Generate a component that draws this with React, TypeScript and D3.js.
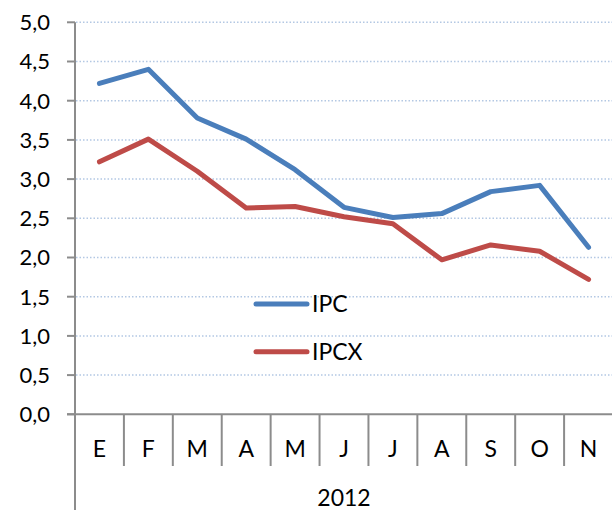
import React from "react";
import * as d3 from "d3";

const months = ["E", "F", "M", "A", "M", "J", "J", "A", "S", "O", "N"];
const ipc = [4.22, 4.4, 3.78, 3.51, 3.12, 2.64, 2.51, 2.56, 2.84, 2.92, 2.13];
const ipcx = [3.22, 3.51, 3.1, 2.63, 2.65, 2.52, 2.43, 1.97, 2.16, 2.08, 1.72];
const yTicks = [0, 0.5, 1, 1.5, 2, 2.5, 3, 3.5, 4, 4.5, 5];
const year = "2012";

const W = 612;
const H = 510;
const left = 75;
const right = 613;
const top = 22.3;
const bottom = 414.3;
const font = "Lato, 'Open Sans', sans-serif";

export default function App() {
  const x = d3
    .scaleBand<number>()
    .domain(months.map((_, i) => i))
    .range([left, right]);
  const y = d3.scaleLinear().domain([0, 5]).range([bottom, top]);
  const fmt = (v: number) => d3.format(".1f")(v).replace(".", ",");

  const line = d3
    .line<number>()
    .x((_, i) => (x(i) as number) + x.bandwidth() / 2)
    .y((d) => y(d));

  const series = [
    { name: "IPC", values: ipc, color: "#4a7ebb" },
    { name: "IPCX", values: ipcx, color: "#be4b48" },
  ];

  return (
    <svg
      width={W}
      height={H}
      style={{ position: "absolute", left: 0, top: 0, background: "#fff" }}
    >
      {/* gridlines */}
      {yTicks
        .filter((t) => t > 0)
        .map((t) => (
          <line
            key={"g" + t}
            x1={left + 1}
            x2={W}
            y1={y(t)}
            y2={y(t)}
            stroke="#b3c8e3"
            strokeWidth={1.5}
            strokeDasharray="1.5,2"
          />
        ))}

      {/* y axis */}
      <line x1={left} x2={left} y1={top} y2={H} stroke="#8c8c8c" strokeWidth={2} />
      {yTicks.map((t) => (
        <g key={"t" + t}>
          <line x1={left - 8} x2={left} y1={y(t)} y2={y(t)} stroke="#8c8c8c" strokeWidth={2} />
          <text
            x={50}
            y={y(t)}
            dy="0.36em"
            textAnchor="end"
            fontFamily={font}
            fontSize={22}
            fill="#000"
          >
            {fmt(t)}
          </text>
        </g>
      ))}

      {/* x axis */}
      <line x1={left - 8} x2={W} y1={bottom} y2={bottom} stroke="#8c8c8c" strokeWidth={2} />
      {months.map((m, i) => (
        <g key={"m" + i}>
          {i > 0 && (
            <line
              x1={x(i) as number}
              x2={x(i) as number}
              y1={bottom}
              y2={466}
              stroke="#8c8c8c"
              strokeWidth={2}
            />
          )}
          <text
            x={(x(i) as number) + x.bandwidth() / 2}
            y={457}
            textAnchor="middle"
            fontFamily={font}
            fontSize={23}
            fill="#000"
          >
            {m}
          </text>
        </g>
      ))}
      <text
        x={(left + right) / 2}
        y={506}
        textAnchor="middle"
        fontFamily={font}
        fontSize={23}
        fill="#000"
      >
        {year}
      </text>

      {/* lines */}
      {series.map((s) => (
        <path
          key={s.name}
          d={line(s.values) || ""}
          fill="none"
          stroke={s.color}
          strokeWidth={5}
          strokeLinejoin="round"
          strokeLinecap="round"
        />
      ))}

      {/* legend */}
      {series.map((s, i) => (
        <g key={"l" + s.name} transform={`translate(0, ${304 + i * 47.7})`}>
          <line x1={256} x2={307} y1={0} y2={0} stroke={s.color} strokeWidth={5} strokeLinecap="round" />
          <text x={312} y={0} dy="0.36em" fontFamily={font} fontSize={23} fill="#000">
            {s.name}
          </text>
        </g>
      ))}
    </svg>
  );
}
